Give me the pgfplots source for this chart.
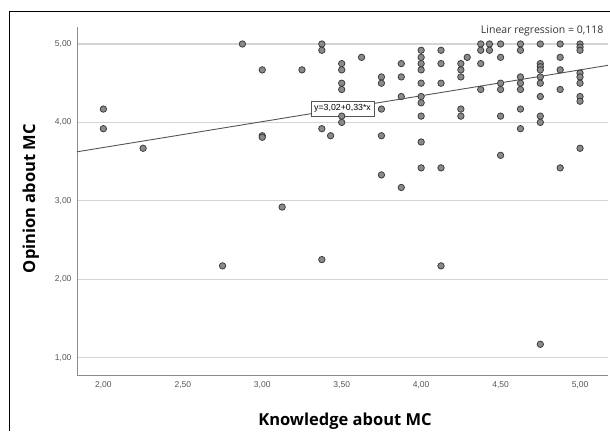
\documentclass[border=0pt]{standalone}
\usepackage{fontspec}
\setmainfont{Liberation Sans}
\newfontfamily\opensans{Open Sans}
\usepackage{pgfplots}
\pgfplotsset{compat=1.18}
\definecolor{gridc}{HTML}{D4D4D4}
\definecolor{axc}{HTML}{8C8C8C}
\definecolor{tickc}{HTML}{555555}
\definecolor{markfill}{HTML}{8A8A8A}
\definecolor{markdraw}{HTML}{3C3C3C}
\definecolor{fitc}{HTML}{555555}
\begin{document}
\begin{tikzpicture}[x=1pt,y=1pt]
\useasboundingbox (0,0) rectangle (610,431);
\draw[black,line width=0.9pt] (9,0) -- (9,420) -- (610,420);
\begin{axis}[
  at={(77pt,56pt)}, anchor=south west,
  scale only axis, width=531pt, height=348pt,
  xmin=1.834, xmax=5.176, ymin=0.778, ymax=5.217,
  axis x line*=bottom, axis y line*=left,
  axis line style={axc, line width=0.9pt, -},
  xtick={2,2.5,3,3.5,4,4.5,5},
  xticklabels={{2,00},{2,50},{3,00},{3,50},{4,00},{4,50},{5,00}},
  ytick={1,2,3,4,5},
  yticklabels={{1,00},{2,00},{3,00},{4,00},{5,00}},
  major tick length=0pt,
  ymajorgrids, xmajorgrids=false,
  grid style={gridc, line width=1.1pt},
  tick label style={font=\fontsize{8.5}{10}\selectfont, text=tickc},
  xticklabel style={yshift=-3pt},
  yticklabel style={xshift=-2pt},
  clip=false,
]
\addplot[fitc, line width=0.9pt] coordinates {(1.834,3.625) (5.176,4.728)};
\addplot[only marks, mark=*, mark size=3.2pt,
  mark options={fill=markfill, draw=markdraw, line width=0.8pt}] coordinates {
(2.0,4.17)(2.0,3.92)(2.25,3.67)(2.75,2.17)(2.875,5.0)
(3.0,4.67)(3.0,3.83)(3.0,3.81)(3.125,2.92)(3.25,4.67)
(3.375,5.0)(3.375,4.92)(3.375,3.92)(3.375,2.25)(3.43,3.83)
(3.5,4.75)(3.5,4.67)(3.5,4.5)(3.5,4.42)(3.5,4.08)(3.5,4.0)
(3.625,4.83)
(3.75,4.58)(3.75,4.5)(3.75,4.17)(3.75,3.83)(3.75,3.33)
(3.875,4.75)(3.875,4.58)(3.875,4.33)(3.875,3.17)
(4.0,4.92)(4.0,4.83)(4.0,4.75)(4.0,4.67)(4.0,4.5)(4.0,4.33)(4.0,4.25)(4.0,4.08)(4.0,3.75)(4.0,3.42)
(4.125,4.92)(4.125,4.75)(4.125,4.5)(4.125,3.42)(4.125,2.17)
(4.25,4.75)(4.25,4.67)(4.25,4.58)(4.25,4.17)(4.25,4.08)
(4.29,4.83)
(4.375,5.0)(4.375,4.92)(4.375,4.75)(4.375,4.42)
(4.43,5.0)(4.43,4.92)
(4.5,5.0)(4.5,4.83)(4.5,4.5)(4.5,4.42)(4.5,4.08)(4.5,3.58)
(4.625,5.0)(4.625,4.92)(4.625,4.58)(4.625,4.5)(4.625,4.42)(4.625,4.17)(4.625,3.92)
(4.75,5.0)(4.75,4.75)(4.75,4.71)(4.75,4.67)(4.75,4.58)(4.75,4.5)(4.75,4.33)(4.75,4.08)(4.75,4.0)(4.75,1.17)
(4.875,5.0)(4.875,4.83)(4.875,4.67)(4.875,4.42)(4.875,3.42)
(5.0,5.0)(5.0,4.96)(5.0,4.92)(5.0,4.63)(5.0,4.58)(5.0,4.5)(5.0,4.33)(5.0,4.27)(5.0,3.67)
};
\node[draw=fitc, fill=white, line width=0.7pt, inner xsep=3pt, inner ysep=3.5pt,
  font=\fontsize{8.8}{10}\selectfont] at (axis cs:3.505,4.177) {y=3,02+0,33*x};
\end{axis}
\node[anchor=base east, font=\opensans\fontsize{10.5}{12}\selectfont, text=black!80] at (607,397) {Linear regression = 0,118};
\node[anchor=base, font=\opensans\bfseries\fontsize{16.5}{18}\selectfont] at (345,5.3) {Knowledge about MC};
\node[anchor=base, rotate=90, font=\opensans\bfseries\fontsize{16.5}{18}\selectfont] at (35,232.3) {Opinion about MC};
\end{tikzpicture}
\end{document}
